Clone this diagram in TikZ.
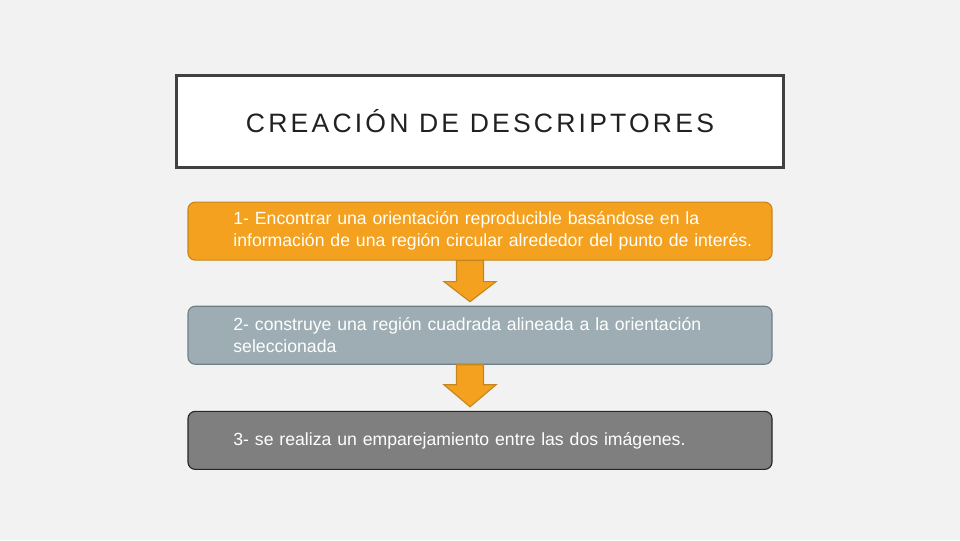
\documentclass[tikz,border=0pt]{standalone}
\usepackage{fontspec}
\setmainfont{Liberation Sans}
\newfontfamily\titulofont[LetterSpace=12]{Liberation Sans}
\usetikzlibrary{positioning,calc}

\definecolor{fondo}{HTML}{F2F2F2}
\definecolor{marco}{HTML}{404040}
\definecolor{naranja}{HTML}{F4A11F}
\definecolor{naranjaborde}{HTML}{C4871F}
\definecolor{azulgris}{HTML}{9DADB3}
\definecolor{azulgrisborde}{HTML}{6E8087}
\definecolor{gris}{HTML}{7F7F7F}
\definecolor{grisborde}{HTML}{262626}

\begin{document}
\begin{tikzpicture}[
    titulo/.style={draw=marco, line width=2.2pt, fill=white, rectangle,
        minimum width=15.18cm, minimum height=2.3cm,
        font=\titulofont\fontsize{18.9}{22}\selectfont, text=black!87},
    paso/.style={rectangle, rounded corners=0.18cm, line width=0.8pt,
        minimum width=14.6cm, minimum height=1.45cm, inner xsep=0pt,
        text width=14.25cm, align=left, text=white,
        font=\fontsize{12.55}{15.8}\selectfont,
        execute at begin node={\leftskip 0.96cm\relax}},
    flecha/.style={fill=naranja, draw=naranjaborde, line width=0.8pt, line join=miter}
]

% Background
\fill[fondo] (0,0) rectangle (24,-13.5);
\useasboundingbox (0,0) rectangle (24,-13.5);

% Nodes
\node[titulo] (titulo) at (12,-3.03) {CREACIÓN DE DESCRIPTORES};
\node[paso, fill=naranja, draw=naranjaborde, below=0.82cm of titulo] (paso1)
    {1- Encontrar una orientación reproducible basándose en la\\
     información de una región circular alrededor del punto de interés.};
\node[paso, fill=azulgris, draw=azulgrisborde, below=1.125cm of paso1] (paso2)
    {2- construye una región cuadrada alineada a la orientación\\
     seleccionada};
\node[paso, fill=gris, draw=grisborde, below=1.15cm of paso2] (paso3)
    {3- se realiza un emparejamiento entre las dos imágenes.};

% Edges
\draw[flecha] ($(paso1.south)+(-0.5875,0)$) -- ++(0,-0.525) -- ++(-0.3125,0)
    -- ($(paso2.north)+(-0.25,0.1)$) -- ($(paso1.south)+(0.4,-0.525)$)
    -- ++(-0.3125,0) -- ++(0,0.525) -- cycle;
\draw[flecha] ($(paso2.south)+(-0.5875,0)$) -- ++(0,-0.5) -- ++(-0.3125,0)
    -- ($(paso3.north)+(-0.25,0.1)$) -- ($(paso2.south)+(0.4,-0.5)$)
    -- ++(-0.3125,0) -- ++(0,0.5) -- cycle;

\end{tikzpicture}
\end{document}
